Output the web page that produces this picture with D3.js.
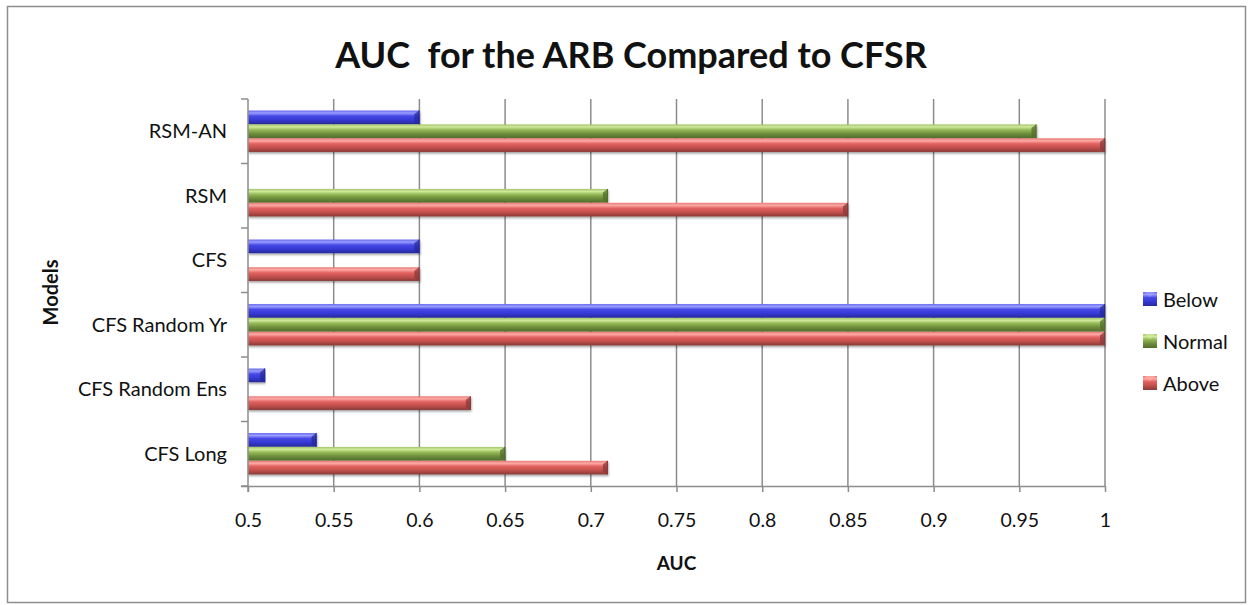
<!DOCTYPE html>
<html>
<head>
<meta charset="utf-8">
<script src="https://cdn.jsdelivr.net/npm/d3@7"></script>
<style>
  html, body { margin: 0; padding: 0; background: #fff; }
  svg { display: block; }
  text { font-family: Lato, "Open Sans", sans-serif; fill: #111; }
</style>
</head>
<body>
<svg id="chart" width="1252" height="605"></svg>
<script>
// Model categories, top to bottom
const models = ["RSM-AN", "RSM", "CFS", "CFS Random Yr", "CFS Random Ens", "CFS Long"];
// Series (drawn top to bottom inside each model group)
const seriesNames = ["Below", "Normal", "Above"];
// AUC per model for each series (null = no bar)
const below  = [0.60, null, 0.60, 1.00, 0.51, 0.54];
const normal = [0.96, 0.71, null, 1.00, null, 0.65];
const above  = [1.00, 0.85, 0.60, 1.00, 0.63, 0.71];
const seriesValues = [below, normal, above];
// X axis ticks
const xTicks = [0.5, 0.55, 0.6, 0.65, 0.7, 0.75, 0.8, 0.85, 0.9, 0.95, 1];

const svg = d3.select("#chart");
const plot = { left: 248, right: 1105, top: 99, bottom: 486 };

// gradients for the bevelled bars
const palettes = {
  Below:  ["#6366f0", "#9a9dff", "#4649e6", "#3538d2", "#262a98"],
  Normal: ["#a3c566", "#d0e99c", "#94b955", "#6c8b3b", "#526d2b"],
  Above:  ["#e77775", "#ffaaa5", "#e26260", "#c04f4c", "#8a3937"]
};
const defs = svg.append("defs");
seriesNames.forEach(name => {
  const g = defs.append("linearGradient").attr("id", "grad-" + name)
    .attr("x1", 0).attr("y1", 0).attr("x2", 0).attr("y2", 1);
  const stops = [0, 0.18, 0.4, 0.7, 1];
  palettes[name].forEach((c, i) => g.append("stop").attr("offset", stops[i]).attr("stop-color", c));
});
const shadow = defs.append("filter").attr("id", "shadow")
  .attr("x", "-5%").attr("y", "-30%").attr("width", "110%").attr("height", "180%");
shadow.append("feDropShadow").attr("dx", 0.5).attr("dy", 1.5)
  .attr("stdDeviation", 1).attr("flood-color", "#000").attr("flood-opacity", 0.4);

// outer frame
svg.append("rect").attr("x", 7.5).attr("y", 6.5).attr("width", 1238).attr("height", 596)
  .attr("fill", "#fff").attr("stroke", "#8e8e8e").attr("stroke-width", 1.5);

const x = d3.scaleLinear().domain([0.5, 1]).range([plot.left, plot.right]);
const y = d3.scaleBand().domain(models).range([plot.top, plot.bottom])
  .paddingInner(0.35).paddingOuter(0.175);
const ySub = d3.scaleBand().domain(seriesNames).range([0, y.bandwidth()]).padding(0.02);

// vertical gridlines
svg.append("g").selectAll("line").data(xTicks.slice(1)).join("line")
  .attr("x1", d => x(d)).attr("x2", d => x(d))
  .attr("y1", plot.top).attr("y2", plot.bottom)
  .attr("stroke", "#8c8c8c").attr("stroke-width", 1.5);

// bars
const barData = [];
models.forEach((m, i) => {
  seriesNames.forEach((s, j) => {
    const v = seriesValues[j][i];
    if (v != null) barData.push({ model: m, series: s, value: v });
  });
});
const bars = svg.append("g").selectAll("g").data(barData).join("g")
  .attr("filter", "url(#shadow)");
bars.append("rect")
  .attr("x", x(0.5))
  .attr("y", d => y(d.model) + ySub(d.series))
  .attr("width", d => x(d.value) - x(0.5))
  .attr("height", ySub.bandwidth())
  .attr("fill", d => "url(#grad-" + d.series + ")");
// bevelled right end cap
bars.append("path")
  .attr("d", d => {
    const x1 = x(d.value), y0 = y(d.model) + ySub(d.series), h = ySub.bandwidth();
    const c = Math.min(5, x1 - x(0.5));
    return `M${x1 - c},${y0 + h * 0.25} L${x1},${y0} L${x1},${y0 + h} L${x1 - c},${y0 + h * 0.8} Z`;
  })
  .attr("fill", d => palettes[d.series][4]).attr("opacity", 0.75);
bars.append("rect")
  .attr("x", d => x(d.value) - 1)
  .attr("y", d => y(d.model) + ySub(d.series))
  .attr("width", 1)
  .attr("height", ySub.bandwidth())
  .attr("fill", d => palettes[d.series][4]);

// x axis
const xAxis = svg.append("g").attr("transform", `translate(0,${plot.bottom})`)
  .call(d3.axisBottom(x).tickValues(xTicks).tickFormat(d3.format("")).tickSize(6).tickPadding(21));
xAxis.select(".domain").attr("d", `M${plot.left - 7},0.5H${plot.right}`)
  .attr("stroke", "#8c8c8c").attr("stroke-width", 1.5);
xAxis.selectAll(".tick line").attr("stroke", "#8c8c8c").attr("stroke-width", 1.5);
xAxis.selectAll(".tick text").attr("font-size", 19.5).attr("font-family", "Lato, sans-serif").attr("fill", "#111");

// y axis: ticks on category boundaries
const boundaries = d3.range(models.length + 1).map(i => plot.top + i * y.step());
const yAxisG = svg.append("g");
yAxisG.append("line").attr("x1", plot.left).attr("x2", plot.left)
  .attr("y1", plot.top).attr("y2", plot.bottom + 6)
  .attr("stroke", "#8c8c8c").attr("stroke-width", 1.5);
yAxisG.selectAll("line.t").data(boundaries).join("line").attr("class", "t")
  .attr("x1", plot.left - 7).attr("x2", plot.left)
  .attr("y1", d => d).attr("y2", d => d)
  .attr("stroke", "#8c8c8c").attr("stroke-width", 1.5);
yAxisG.selectAll("text").data(models).join("text")
  .attr("x", plot.left - 21)
  .attr("y", d => y(d) + y.bandwidth() / 2)
  .attr("dy", "0.35em")
  .attr("text-anchor", "end")
  .attr("font-size", 20)
  .text(d => d);

// title and axis titles
svg.append("text").attr("x", 631).attr("y", 68).attr("text-anchor", "middle")
  .attr("font-size", 36).attr("font-weight", "bold").text("AUC  for the ARB Compared to CFSR")
  .style("white-space", "pre");
svg.append("text").attr("x", (plot.left + plot.right) / 2).attr("y", 570)
  .attr("text-anchor", "middle").attr("font-size", 19).attr("font-weight", "bold").text("AUC");
svg.append("text").attr("transform", `translate(58,${(plot.top + plot.bottom) / 2}) rotate(-90)`)
  .attr("text-anchor", "middle").attr("font-size", 20).attr("font-weight", "bold").text("Models");

// legend
const legend = svg.append("g").attr("transform", "translate(1143,292)");
const li = legend.selectAll("g").data(seriesNames).join("g")
  .attr("transform", (d, i) => `translate(0,${i * 42})`);
li.append("rect").attr("width", 14).attr("height", 14)
  .attr("fill", d => "url(#grad-" + d + ")");
li.append("path").attr("d", "M2,0 L12,0 L7,5 Z").attr("fill", d => palettes[d][1]).attr("opacity", 0.8);
li.append("text").attr("x", 20).attr("y", 7).attr("dy", "0.38em")
  .attr("font-size", 20).text(d => d);
</script>
</body>
</html>
